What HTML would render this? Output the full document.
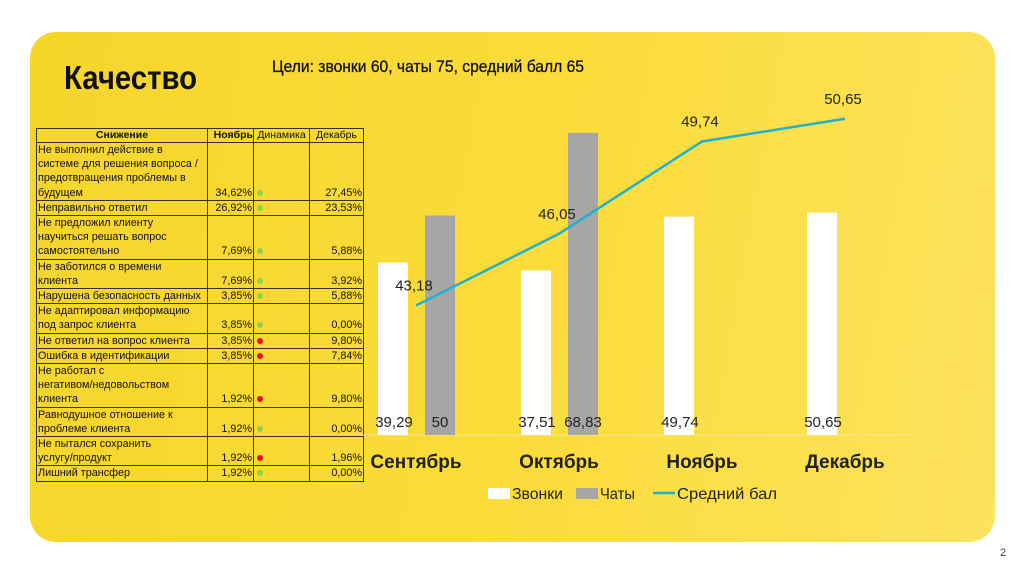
<!DOCTYPE html>
<html><head><meta charset="utf-8">
<style>
body{margin:0;width:1024px;height:574px;background:#fff;overflow:hidden;position:relative;font-family:"Liberation Sans",sans-serif}
#panel{position:absolute;left:30px;top:32px;width:965px;height:510px;border-radius:26px;background:linear-gradient(100deg,#f6d52a 0%,#fbdc3c 55%,#fde35e 100%)}
svg{position:absolute;left:0;top:0}
table{position:absolute;left:36px;top:128px;border-collapse:collapse;font-size:10.8px;line-height:14.2px;color:#111;table-layout:fixed;width:327px}
td{border:1px solid #333;padding:0 1px;vertical-align:bottom;white-space:nowrap;overflow:hidden}
td.n,td.d{text-align:right}
th{border:1px solid #333;font-weight:normal;height:13px;padding:0;font-size:10.5px;line-height:13px}
.g{display:inline-block;width:6px;height:6px;border-radius:50%;background:#8fd14f;margin-left:2px}
.r{display:inline-block;width:6px;height:6px;border-radius:50%;background:#e81010;margin-left:2px}
</style></head><body>
<div id="panel"></div>
<table>
<colgroup><col style="width:171px"><col style="width:46px"><col style="width:56px"><col style="width:54px"></colgroup>
<tr><th style="font-weight:bold">Снижение</th><th style="font-weight:bold;text-align:right">Ноябрь</th><th>Динамика</th><th>Декабрь</th></tr>
<tr><td>Не выполнил действие в<br>системе для решения вопроса /<br>предотвращения проблемы в<br>будущем</td><td class="n">34,62%</td><td><span class="g"></span></td><td class="d">27,45%</td></tr>
<tr><td>Неправильно ответил</td><td class="n">26,92%</td><td><span class="g"></span></td><td class="d">23,53%</td></tr>
<tr><td>Не предложил клиенту<br>научиться решать вопрос<br>самостоятельно</td><td class="n">7,69%</td><td><span class="g"></span></td><td class="d">5,88%</td></tr>
<tr><td>Не заботился о времени<br>клиента</td><td class="n">7,69%</td><td><span class="g"></span></td><td class="d">3,92%</td></tr>
<tr><td>Нарушена безопасность данных</td><td class="n">3,85%</td><td><span class="g"></span></td><td class="d">5,88%</td></tr>
<tr><td>Не адаптировал информацию<br>под запрос клиента</td><td class="n">3,85%</td><td><span class="g"></span></td><td class="d">0,00%</td></tr>
<tr><td>Не ответил на вопрос клиента</td><td class="n">3,85%</td><td><span class="r"></span></td><td class="d">9,80%</td></tr>
<tr><td>Ошибка в идентификации</td><td class="n">3,85%</td><td><span class="r"></span></td><td class="d">7,84%</td></tr>
<tr><td>Не работал с<br>негативом/недовольством<br>клиента</td><td class="n">1,92%</td><td><span class="r"></span></td><td class="d">9,80%</td></tr>
<tr><td>Равнодушное отношение к<br>проблеме клиента</td><td class="n">1,92%</td><td><span class="g"></span></td><td class="d">0,00%</td></tr>
<tr><td>Не пытался сохранить<br>услугу/продукт</td><td class="n">1,92%</td><td><span class="r"></span></td><td class="d">1,96%</td></tr>
<tr><td>Лишний трансфер</td><td class="n">1,92%</td><td><span class="g"></span></td><td class="d">0,00%</td></tr>
</table>
<svg id="chart" width="1024" height="574" xmlns="http://www.w3.org/2000/svg" font-family="Liberation Sans, sans-serif">
<text x="64" y="89" font-size="33" font-weight="bold" textLength="133" lengthAdjust="spacingAndGlyphs" fill="#111">Качество</text>
<text x="272" y="72" font-size="17" textLength="312" lengthAdjust="spacingAndGlyphs" fill="#111" stroke="#111" stroke-width="0.3">Цели: звонки 60, чаты 75, средний балл 65</text>
<line x1="360" y1="435" x2="915" y2="435" stroke="#f4e69a" stroke-width="1"/>
<g id="bars"></g><g id="line"></g><g id="labels"></g>
<g>
<rect x="488" y="488" width="22" height="11" fill="#fff"/>
<text x="512" y="499" font-size="16" textLength="51" lengthAdjust="spacingAndGlyphs" fill="#222">Звонки</text>
<rect x="576" y="488" width="22" height="11" fill="#a6a6a6"/>
<text x="600" y="499" font-size="16" textLength="35" lengthAdjust="spacingAndGlyphs" fill="#222">Чаты</text>
<line x1="653" y1="493" x2="675" y2="493" stroke="#1fb2d0" stroke-width="2.5"/>
<text x="677" y="499" font-size="16" textLength="100" lengthAdjust="spacingAndGlyphs" fill="#222">Средний бал</text>
</g>
<text x="1000" y="556" font-size="11" fill="#444">2</text>
</svg>
<script>
const categories=["Сентябрь","Октябрь","Ноябрь","Декабрь"];
const calls=[39.29,37.51,49.74,50.65];
const chats=[50,68.83,null,null];
const avgScore=[43.18,46.05,49.74,50.65];
const NS="http://www.w3.org/2000/svg";
const cx=i=>416+i*143;
const yBar=v=>435-v*4.39;
const yLine=v=>435-(v-38)*25;
const fmt=v=>String(v).replace('.',',');
function mk(tag,attrs,parent,txt){const e=document.createElementNS(NS,tag);for(const k in attrs)e.setAttribute(k,attrs[k]);if(txt!==undefined)e.textContent=txt;document.getElementById(parent).appendChild(e);return e;}
categories.forEach((c,i)=>{
  const t=mk('text',{x:cx(i),y:468,'font-size':19,'font-weight':'bold','text-anchor':'middle',fill:'#222'},'labels',c);
  
  
  const b=mk('rect',{x:cx(i)-38,y:yBar(calls[i]),width:30,height:435-yBar(calls[i]),fill:'#fff'},'bars');
  
  
  const bl=mk('text',{x:cx(i)-22,y:427,'font-size':15,'text-anchor':'middle',fill:'#222'},'labels',fmt(calls[i]));
  
  
  if(chats[i]!=null){
    const g=mk('rect',{x:cx(i)+9,y:yBar(chats[i]),width:30,height:435-yBar(chats[i]),fill:'#a6a6a6'},'bars');
    
    
    const gl=mk('text',{x:cx(i)+24,y:427,'font-size':15,'text-anchor':'middle',fill:'#222'},'labels',fmt(chats[i]));
    
    
  }
  const ll=mk('text',{x:cx(i)-2,y:yLine(avgScore[i])-15,'font-size':15,'text-anchor':'middle',fill:'#222'},'labels',fmt(avgScore[i]));
  
  
});
const p=mk('polyline',{points:avgScore.map((v,i)=>cx(i)+','+yLine(v)).join(' '),fill:'none',stroke:'#1fb2d0','stroke-width':2.5},'line');


</script>
</body></html>
